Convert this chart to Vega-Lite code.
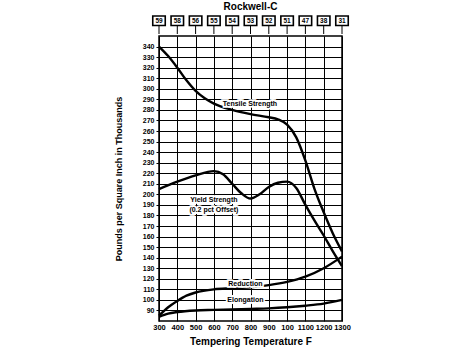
{
  "$schema": "https://vega.github.io/schema/vega-lite/v6.json",
  "padding": {"left": 113, "top": 1, "right": 5, "bottom": 5},
  "background": "white",
  "config": {
    "font": "Liberation Sans",
    "axis": {"labelFont": "Liberation Sans", "titleFont": "Liberation Sans", "labelOverlap": false, "labelBound": false, "labelFlush": false}
  },
  "datasets": {
    "rockwell": [
      {"T": 300, "hrc": "59"}, {"T": 400, "hrc": "58"}, {"T": 500, "hrc": "56"},
      {"T": 600, "hrc": "55"}, {"T": 700, "hrc": "54"}, {"T": 800, "hrc": "53"},
      {"T": 900, "hrc": "52"}, {"T": 1000, "hrc": "51"}, {"T": 1100, "hrc": "47"},
      {"T": 1200, "hrc": "38"}, {"T": 1300, "hrc": "31"}
    ],
    "curves": [
      {"s": "Tensile", "T": 300, "v": 340}, {"s": "Tensile", "T": 350, "v": 331},
      {"s": "Tensile", "T": 400, "v": 320}, {"s": "Tensile", "T": 450, "v": 308},
      {"s": "Tensile", "T": 500, "v": 298}, {"s": "Tensile", "T": 550, "v": 291},
      {"s": "Tensile", "T": 600, "v": 286}, {"s": "Tensile", "T": 700, "v": 280},
      {"s": "Tensile", "T": 800, "v": 276}, {"s": "Tensile", "T": 900, "v": 273},
      {"s": "Tensile", "T": 950, "v": 271}, {"s": "Tensile", "T": 1000, "v": 266},
      {"s": "Tensile", "T": 1050, "v": 254}, {"s": "Tensile", "T": 1100, "v": 232},
      {"s": "Tensile", "T": 1150, "v": 205}, {"s": "Tensile", "T": 1200, "v": 183},
      {"s": "Tensile", "T": 1250, "v": 163}, {"s": "Tensile", "T": 1300, "v": 146},
      {"s": "Yield", "T": 300, "v": 205}, {"s": "Yield", "T": 400, "v": 212},
      {"s": "Yield", "T": 500, "v": 218}, {"s": "Yield", "T": 600, "v": 222},
      {"s": "Yield", "T": 650, "v": 219}, {"s": "Yield", "T": 700, "v": 210},
      {"s": "Yield", "T": 750, "v": 201}, {"s": "Yield", "T": 800, "v": 196},
      {"s": "Yield", "T": 850, "v": 200}, {"s": "Yield", "T": 900, "v": 207},
      {"s": "Yield", "T": 950, "v": 211}, {"s": "Yield", "T": 1000, "v": 212},
      {"s": "Yield", "T": 1050, "v": 206}, {"s": "Yield", "T": 1100, "v": 190},
      {"s": "Yield", "T": 1150, "v": 175}, {"s": "Yield", "T": 1200, "v": 161},
      {"s": "Yield", "T": 1250, "v": 146}, {"s": "Yield", "T": 1300, "v": 132},
      {"s": "Reduction", "T": 300, "v": 85}, {"s": "Reduction", "T": 350, "v": 93},
      {"s": "Reduction", "T": 400, "v": 99}, {"s": "Reduction", "T": 450, "v": 104},
      {"s": "Reduction", "T": 500, "v": 107}, {"s": "Reduction", "T": 600, "v": 110},
      {"s": "Reduction", "T": 700, "v": 111}, {"s": "Reduction", "T": 800, "v": 112},
      {"s": "Reduction", "T": 900, "v": 114}, {"s": "Reduction", "T": 1000, "v": 117},
      {"s": "Reduction", "T": 1100, "v": 122}, {"s": "Reduction", "T": 1200, "v": 130},
      {"s": "Reduction", "T": 1300, "v": 141},
      {"s": "Elongation", "T": 300, "v": 84}, {"s": "Elongation", "T": 350, "v": 87},
      {"s": "Elongation", "T": 400, "v": 88.5}, {"s": "Elongation", "T": 500, "v": 90},
      {"s": "Elongation", "T": 600, "v": 90.5}, {"s": "Elongation", "T": 700, "v": 91},
      {"s": "Elongation", "T": 800, "v": 91.5}, {"s": "Elongation", "T": 900, "v": 92},
      {"s": "Elongation", "T": 1000, "v": 93}, {"s": "Elongation", "T": 1100, "v": 94.5},
      {"s": "Elongation", "T": 1200, "v": 96.5}, {"s": "Elongation", "T": 1300, "v": 100}
    ],
    "labels": [
      {"text": "Tensile Strength", "T": 797, "v": 286},
      {"text": "Yield Strength", "T": 600, "v": 194.5},
      {"text": "(0.2 pct Offset)", "T": 600, "v": 185.5},
      {"text": "Reduction", "T": 772, "v": 115.5},
      {"text": "Elongation", "T": 772, "v": 99.5}
    ]
  },
  "spacing": 0,
  "vconcat": [
    {
      "width": 183,
      "height": 17,
      "view": {"stroke": null},
      "title": {"text": "Rockwell-C", "fontSize": 10, "fontWeight": "bold", "font": "Liberation Sans", "offset": 1, "anchor": "middle"},
      "data": {"name": "rockwell"},
      "layer": [
        {
          "mark": {"type": "rule", "color": "black", "strokeWidth": 1},
          "encoding": {
            "x": {"field": "T", "type": "quantitative", "scale": {"domain": [300, 1300]}, "axis": null},
            "y": {"datum": 0, "type": "quantitative", "scale": {"domain": [0, 17]}, "axis": null},
            "y2": {"datum": 14}
          }
        },
        {
          "mark": {"type": "point", "shape": "M-1.25,-0.95H1.25V0.95H-1.25Z", "size": 100, "filled": true, "fill": "white", "stroke": "black", "strokeWidth": 1.6, "opacity": 1},
          "encoding": {
            "x": {"field": "T", "type": "quantitative"},
            "y": {"datum": 14, "type": "quantitative"}
          }
        },
        {
          "mark": {"type": "text", "fontSize": 6.5, "fontWeight": "bold", "font": "Liberation Sans", "color": "black", "baseline": "middle", "align": "center"},
          "encoding": {
            "x": {"field": "T", "type": "quantitative"},
            "y": {"datum": 14, "type": "quantitative"},
            "text": {"field": "hrc"}
          }
        }
      ]
    },
    {
      "width": 183,
      "height": 285,
      "view": {"stroke": "black", "strokeWidth": 1.5},
      "layer": [
        {
          "data": {"name": "curves"},
          "mark": {"type": "line", "interpolate": "monotone", "color": "black", "strokeWidth": 2.4},
          "encoding": {
            "x": {
              "field": "T", "type": "quantitative",
              "scale": {"domain": [300, 1300], "nice": false},
              "axis": {
                "values": [300, 400, 500, 600, 700, 800, 900, 1000, 1100, 1200, 1300],
                "tickCount": 100,
                "labelExpr": "datum.value == 1000 ? '100' : datum.label",
                "format": "d",
                "grid": true, "gridColor": "black", "gridOpacity": 1, "gridWidth": 1,
                "domain": false, "ticks": false,
                "labelFontSize": 7.5, "labelFontWeight": "bold", "labelColor": "black", "labelPadding": 2,
                "title": "Tempering Temperature F", "titleFontSize": 10, "titleFontWeight": "bold", "titleColor": "black", "titlePadding": 6
              }
            },
            "y": {
              "field": "v", "type": "quantitative",
              "scale": {"domain": [80, 350], "nice": false, "zero": false},
              "axis": {
                "values": [90, 100, 110, 120, 130, 140, 150, 160, 170, 180, 190, 200, 210, 220, 230, 240, 250, 260, 270, 280, 290, 300, 310, 320, 330, 340],
                "tickCount": 100,
                "grid": true, "gridColor": "black", "gridOpacity": 1, "gridWidth": 1,
                "domain": false, "ticks": true, "tickColor": "black", "tickSize": 3, "tickWidth": 1,
                "labelFontSize": 7, "labelFontWeight": "bold", "labelColor": "black", "labelPadding": 2,
                "title": "Pounds per Square Inch in Thousands", "titleFontSize": 9, "titleFontWeight": "bold", "titleColor": "black", "titlePadding": 19
              }
            },
            "detail": {"field": "s"}
          }
        },
        {
          "data": {"name": "labels"},
          "mark": {"type": "text", "fontSize": 7, "fontWeight": "bold", "font": "Liberation Sans", "stroke": "white", "strokeWidth": 3.5, "fill": "white", "baseline": "middle"},
          "encoding": {
            "x": {"field": "T", "type": "quantitative"},
            "y": {"field": "v", "type": "quantitative"},
            "text": {"field": "text"}
          }
        },
        {
          "data": {"name": "labels"},
          "mark": {"type": "text", "fontSize": 7, "fontWeight": "bold", "font": "Liberation Sans", "color": "black", "baseline": "middle"},
          "encoding": {
            "x": {"field": "T", "type": "quantitative"},
            "y": {"field": "v", "type": "quantitative"},
            "text": {"field": "text"}
          }
        }
      ]
    }
  ]
}
